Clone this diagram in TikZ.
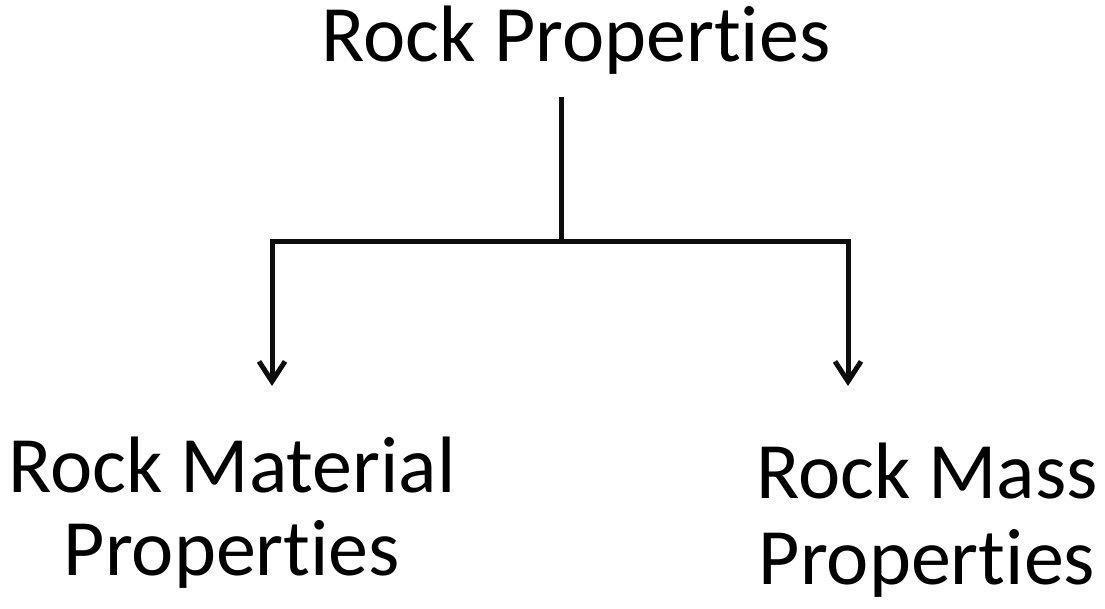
\documentclass[tikz,border=0pt]{standalone}
\usepackage{fontspec}
\setmainfont[Ligatures={NoCommon}]{Carlito}
\usetikzlibrary{arrows.meta}
\begin{document}
\begin{tikzpicture}[x=1pt,y=-1pt,
  lbl/.style={inner sep=0pt, align=center, font=\fontsize{80}{80}\selectfont},
  conn/.style={line width=5pt, black!95},
  arr/.style={conn, -{Straight Barb[length=20pt,width=26pt,line width=5pt]}}]
\useasboundingbox (0,0) rectangle (1105,609);
\node[lbl, anchor=base] (rp) at (576,62) {Rock Properties};
\node[lbl, anchor=north] (rmat) at (232,437) {Rock Material\\[3pt]Properties};
\node[lbl, anchor=north] (rmass) at (927,443) {Rock Mass\\[6pt]Properties};
\coordinate (top) at (561,97);
\coordinate (j) at (561,242);
\coordinate (la) at (272,386);
\coordinate (ra) at (848,386);
\draw[conn] (top) -- (j);
\draw[arr] (j) -| (la);
\draw[arr] (j) -| (ra);
\end{tikzpicture}
\end{document}
